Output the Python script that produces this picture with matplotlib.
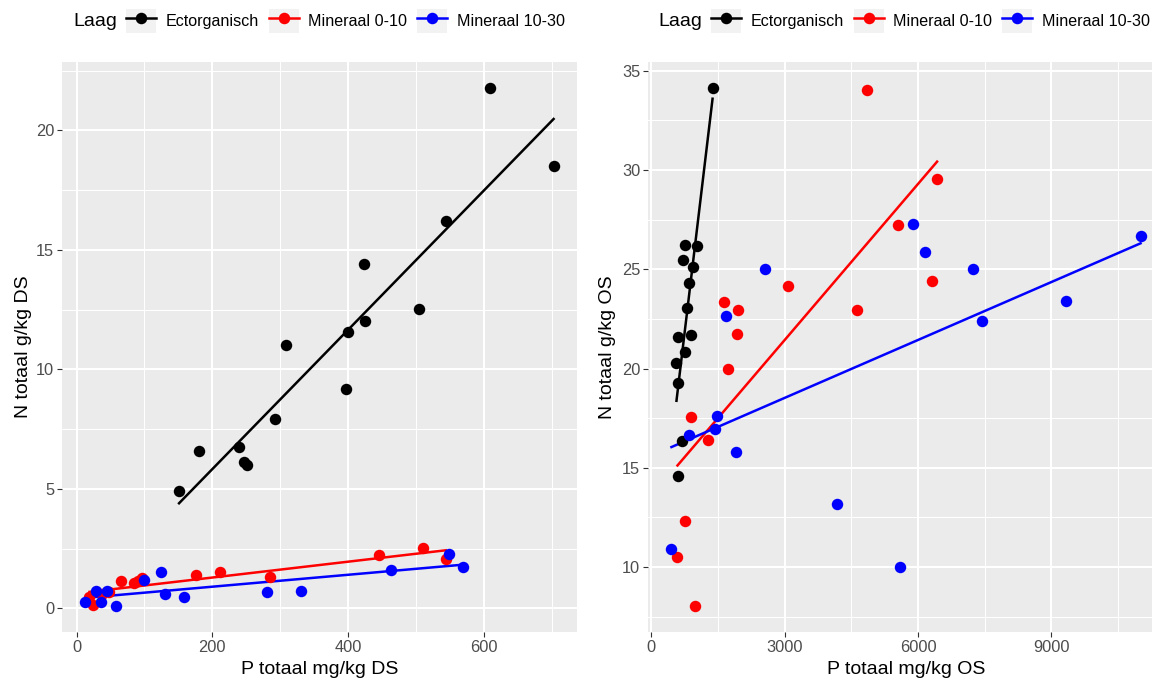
import numpy as np
import matplotlib
matplotlib.use("Agg")
import matplotlib.pyplot as plt
from matplotlib.lines import Line2D
from matplotlib.patches import Patch
from matplotlib.legend_handler import HandlerTuple
from matplotlib.ticker import MultipleLocator

plt.rcParams['font.family'] = ['Liberation Sans', 'DejaVu Sans']

# groups
labels = ["Ectorganisch", "Mineraal 0-10", "Mineraal 10-30"]
colors = ["black", "red", "blue"]

# left panel: P totaal mg/kg DS vs N totaal g/kg DS
ds_ecto_x = [151, 181, 240, 247, 251, 293, 309, 397, 400, 424, 425, 504, 544, 610, 703]
ds_ecto_y = [4.9, 6.58, 6.74, 6.12, 5.99, 7.92, 11.02, 9.17, 11.56, 14.41, 12.02, 12.53, 16.21, 21.78, 18.52]
ds_m010_x = [19, 24, 38, 48, 66, 85, 91, 96, 176, 212, 285, 446, 510, 544]
ds_m010_y = [0.5, 0.15, 0.62, 0.7, 1.13, 1.05, 1.17, 1.26, 1.38, 1.51, 1.30, 2.22, 2.51, 2.09]
ds_m1030_x = [13, 28, 36, 45, 58, 100, 125, 130, 159, 281, 331, 463, 549, 569]
ds_m1030_y = [0.29, 0.75, 0.27, 0.72, 0.1, 1.21, 1.51, 0.59, 0.5, 0.71, 0.75, 1.59, 2.26, 1.72]

# right panel: P totaal mg/kg OS vs N totaal g/kg OS
os_ecto_x = [1376, 767, 1015, 722, 925, 835, 812, 609, 880, 767, 564, 609, 699, 609]
os_ecto_y = [34.14, 26.21, 26.16, 25.45, 25.10, 24.29, 23.03, 21.57, 21.67, 20.81, 20.30, 19.29, 16.36, 14.60]
os_m010_x = [4850, 5549, 3068, 1624, 1940, 1917, 4624, 6316, 6429, 1714, 902, 1263, 767, 587, 970]
os_m010_y = [34.04, 27.22, 24.14, 23.33, 22.93, 21.72, 22.93, 24.39, 29.55, 20.0, 17.58, 16.41, 12.32, 10.5, 8.03]
os_m1030_x = [2549, 1669, 5888, 6158, 7241, 7444, 9339, 11008, 4173, 5594, 1466, 1421, 835, 1895, 451]
os_m1030_y = [25.0, 22.63, 27.27, 25.86, 25.0, 22.37, 23.38, 26.67, 13.18, 10.0, 17.63, 16.97, 16.67, 15.81, 10.91]

panels = [
    ([(ds_ecto_x, ds_ecto_y), (ds_m010_x, ds_m010_y), (ds_m1030_x, ds_m1030_y)],
     "P totaal mg/kg DS", "N totaal g/kg DS", 200, 100, 5, 2.5),
    ([(os_ecto_x, os_ecto_y), (os_m010_x, os_m010_y), (os_m1030_x, os_m1030_y)],
     "P totaal mg/kg OS", "N totaal g/kg OS", 3000, 1500, 5, 2.5),
]

W, H = 1152, 681
fig = plt.figure(figsize=(W / 100, H / 100), dpi=100)
boxes = [(62, 577), (648, 1164)]
top, bottom = 62, 632

for (groups, xl, yl, xmaj, xmin, ymaj, ymin), (l, r) in zip(panels, boxes):
    ax = fig.add_axes([l / W, 1 - bottom / H, (r - l) / W, (bottom - top) / H])
    ax.set_facecolor("#EBEBEB")
    for (x, y), c in zip(groups, colors):
        x = np.array(x, float)
        y = np.array(y, float)
        k, b = np.polyfit(x, y, 1)
        xs = np.array([x.min(), x.max()])
        ax.plot(xs, k * xs + b, color=c, lw=1.8, zorder=2)
        ax.scatter(x, y, s=68, color=c, zorder=3, linewidths=0)
    ax.margins(0.05)
    ax.xaxis.set_major_locator(MultipleLocator(xmaj))
    ax.xaxis.set_minor_locator(MultipleLocator(xmin))
    ax.yaxis.set_major_locator(MultipleLocator(ymaj))
    ax.yaxis.set_minor_locator(MultipleLocator(ymin))
    ax.grid(which="major", color="white", lw=1.5)
    ax.grid(which="minor", color="white", lw=0.75)
    ax.set_axisbelow(True)
    for s in ax.spines.values():
        s.set_visible(False)
    ax.tick_params(which="major", length=3.7, width=0.8, color="#333333",
                   labelcolor="#4D4D4D", labelsize=11.8, pad=2)
    ax.tick_params(which="minor", length=0)
    ax.set_xlabel(xl, fontsize=14)
    ax.set_ylabel(yl, fontsize=14)
    ax.xaxis.set_label_coords(0.5, (bottom - 670) / (bottom - top))
    ax.xaxis.label.set_va("center")
    ax.yaxis.set_label_coords((24 - 62) / (577 - 62) if l < 600 else (607 - 648) / (1164 - 648), 0.5)
    ax.yaxis.label.set_va("center")

    # legend on top
    handles = [(Patch(facecolor="#F2F2F2", edgecolor="none"),
                Line2D([], [], color=c, lw=1.8, marker="o", markersize=8.3, markeredgewidth=0))
               for c in colors]
    lx = 73 if l < 600 else 658
    fig.text(lx / W, 1 - 21 / H, "Laag", fontsize=14, va="center", ha="left")
    fig.legend(handles, labels, ncol=3, loc="center left",
               bbox_to_anchor=((lx + 53) / W, 1 - 21 / H),
               handler_map={tuple: HandlerTuple(ndivide=1, pad=0)},
               frameon=False, fontsize=11.6, handlelength=1.85, handleheight=1.85,
               handletextpad=0.6, columnspacing=0.62, borderpad=0, borderaxespad=0,
               numpoints=1)

fig.savefig("out.png", dpi=100)
